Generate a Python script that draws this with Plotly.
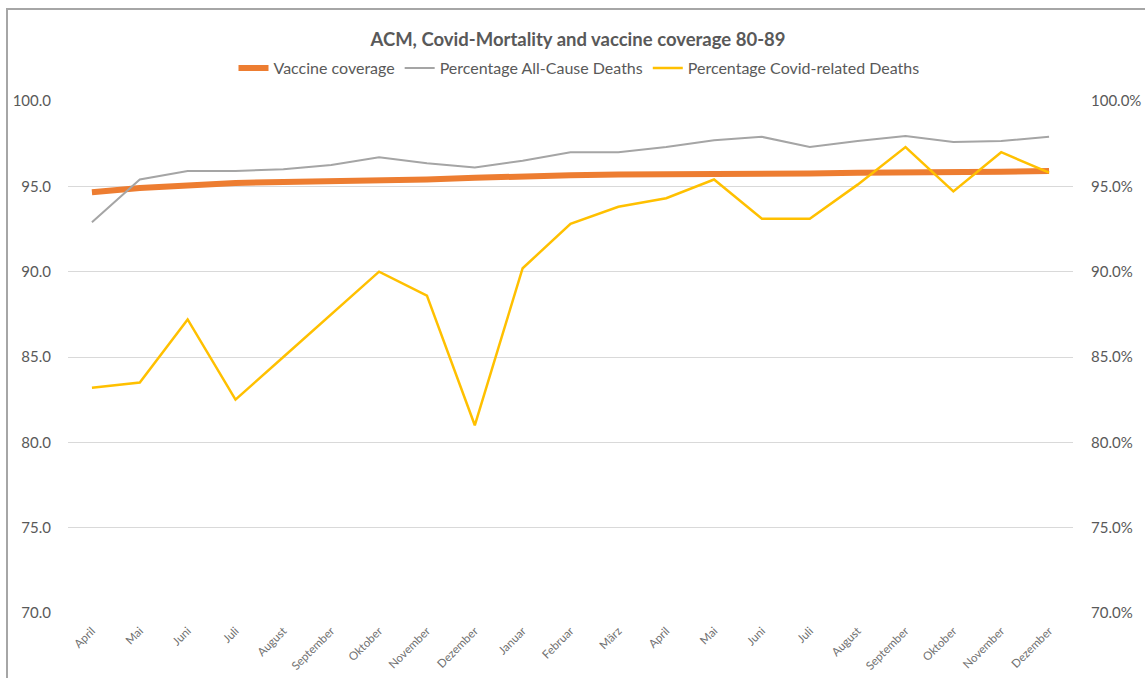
import plotly.graph_objects as go

months = ['April', 'Mai', 'Juni', 'Juli', 'August', 'September', 'Oktober', 'November',
          'Dezember', 'Januar', 'Februar', 'März', 'April', 'Mai', 'Juni', 'Juli',
          'August', 'September', 'Oktober', 'November', 'Dezember']

vaccine_coverage = [94.65, 94.9, 95.05, 95.2, 95.25, 95.3, 95.3, 95.4, 95.5, 95.6, 95.65,
                    95.7, 95.7, 95.72, 95.72, 95.75, 95.8, 95.8, 95.82, 95.85, 95.9]
acm_pct = [92.9, 95.4, 95.9, 95.9, 96.0, 96.25, 96.7, 96.35, 96.1, 96.5, 97.0,
           97.0, 97.3, 97.7, 97.9, 97.3, 97.65, 97.95, 97.6, 97.65, 97.9]
covid_pct = [83.2, 83.5, 87.2, 82.5, 85.0, 87.5, 90.0, 88.6, 81.0, 90.2, 92.8,
             93.8, 94.3, 95.4, 93.1, 93.1, 95.1, 97.3, 94.7, 97.0, 95.8]

left_ticks = [70, 75, 80, 85, 90, 95, 100]
left_labels = [f'{v:.1f}' for v in left_ticks]
right_labels = [f'{v:.1f}%' for v in left_ticks]

idx = list(range(len(months)))
grey_txt = '#595959'
font = 'Lato, Open Sans, sans-serif'

W, H = 1145, 678
L, R, T, B = 68, 72, 101, 65
pw, ph = W - L - R, H - T - B

fig = go.Figure()
fig.add_trace(go.Scatter(x=idx, y=vaccine_coverage, name='Vaccine coverage', mode='lines',
                         line=dict(color='#ED7D31', width=6)))
fig.add_trace(go.Scatter(x=idx, y=acm_pct, name='Percentage All-Cause Deaths', mode='lines',
                         line=dict(color='#A5A5A5', width=2), yaxis='y2'))
fig.add_trace(go.Scatter(x=idx, y=covid_pct, name='Percentage Covid-related Deaths', mode='lines',
                         line=dict(color='#FFC000', width=2.5), yaxis='y2'))

fig.update_layout(
    template='none',
    width=W, height=H,
    margin=dict(l=L, r=R, t=T, b=B, autoexpand=False),
    paper_bgcolor='white', plot_bgcolor='white',
    font=dict(family=font, color=grey_txt, size=13),
    title=dict(text='ACM, Covid-Mortality and vaccine coverage 80-89', x=578 / W, xanchor='center',
               y=1 - 40 / H, yanchor='middle', font=dict(size=18.5, color=grey_txt, family=font, weight='bold')),
    legend=dict(orientation='h', x=(579 - L) / pw, xanchor='center', y=(T - 68) / ph + 1, yanchor='middle',
                font=dict(size=16, color=grey_txt), itemwidth=30, tracegroupgap=0, bgcolor='rgba(0,0,0,0)'),
    xaxis=dict(range=[-0.5, len(months) - 0.5], tickvals=idx, ticktext=months, tickangle=-45,
               showgrid=False, zeroline=False, showline=False, ticks='', ticklabelstandoff=8,
               automargin=False, tickfont=dict(size=11.5, color='#6f6f6f')),
    yaxis=dict(range=[70, 100], tickvals=left_ticks, ticktext=left_labels, showgrid=True,
               gridcolor='#D9D9D9', gridwidth=1, zeroline=False, showline=False, ticks='',
               automargin=False, ticklabelstandoff=16, tickfont=dict(size=15, color=grey_txt)),
    yaxis2=dict(range=[70, 100], tickvals=left_ticks, ticktext=right_labels,
                overlaying='y', side='right', showgrid=False, zeroline=False, showline=False,
                automargin=False, ticks='', ticklabelstandoff=17, tickfont=dict(size=15, color=grey_txt)),
    showlegend=True,
)

# chart frame (left and top edges visible in the screenshot)
fig.add_shape(type='rect', xref='paper', yref='paper',
              x0=(7 - L) / pw, x1=1.5, y0=-1, y1=(ph + T - 9) / ph,
              line=dict(color='#A6A6A6', width=2), fillcolor='rgba(0,0,0,0)', layer='below')

fig.write_html('out.html', config={'displayModeBar': False},
               post_script="document.body.style.margin='0';document.body.style.overflow='hidden';")
